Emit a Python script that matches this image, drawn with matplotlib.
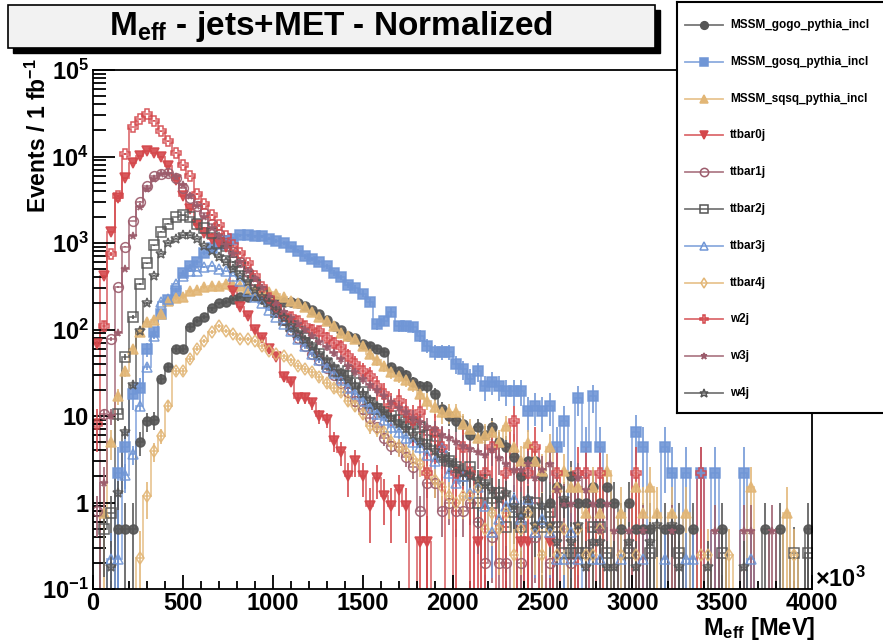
import numpy as np
import matplotlib
matplotlib.use("Agg")
import matplotlib.pyplot as plt
from matplotlib.patches import Rectangle
from matplotlib.ticker import FixedLocator, LogLocator, NullFormatter, MultipleLocator

plt.rcParams['font.family'] = ['Liberation Sans', 'DejaVu Sans']
plt.rcParams['mathtext.fontset'] = 'custom'
plt.rcParams['mathtext.rm'] = 'Liberation Sans:bold'
plt.rcParams['mathtext.bf'] = 'Liberation Sans:bold'
plt.rcParams['mathtext.it'] = 'Liberation Sans:bold'

# M_eff histograms: 100 bins of 40 MeV between 0 and 4000 MeV
bin_edges = np.linspace(0, 4000, 101)

gogo = [0, 0, 0, 0.5, 0.5, 0.5, 5, 8.7, 9, 27,
        37, 60, 60, 107, 126, 140, 175, 200, 210, 225,
        235, 240, 245, 225, 220, 215, 210, 210, 200, 185,
        170, 150, 130, 110, 100, 85, 80, 68, 64, 60,
        55, 37, 33, 30, 25, 22, 22, 18, 12, 10,
        8.7, 8, 6, 7.4, 6, 7.5, 5, 4.4, 3.4, 2,
        3, 3, 2, 1, 1.5, 1, 2, 1, 1, 1.5,
        1, 1.5, 1, 0.5, 1, 0.5, 0.5, 0.5, 0, 0.5,
        0.5, 0.5, 0, 0.5, 0, 0, 0, 0.5, 0, 0,
        0, 0, 0, 0.5, 0, 0.5, 0, 0, 0, 0.5]

gosq = [0, 0, 0, 2.2, 4.4, 18, 21, 59, 93, 150,
        220, 280, 450, 540, 600, 760, 870, 980, 1050, 1120,
        1230, 1230, 1200, 1200, 1120, 1050, 1000, 900, 800, 700,
        650, 600, 540, 450, 400, 330, 300, 260, 210, 115,
        125, 160, 110, 110, 107, 85, 65, 55, 55, 55,
        40, 35, 27, 33, 22, 25, 22, 19.5, 19.5, 19.5,
        11.5, 13, 11.5, 13, 4.4, 8.7, 0, 16, 4.4, 17,
        4.4, 0, 0, 0, 0, 6.5, 4.4, 0, 0, 4.4,
        2.2, 0, 2.2, 0, 2.2, 0, 2.2, 0, 0, 0,
        2.2, 0, 0, 0, 0, 0, 0, 0, 0, 0]

sqsq = [0, 0.75, 5, 17, 33, 60, 93, 123, 130, 150,
        215, 230, 240, 280, 290, 310, 320, 320, 340, 330,
        320, 300, 290, 280, 270, 255, 240, 215, 200, 180,
        160, 140, 127, 110, 90, 85, 78, 65, 52, 44,
        38, 32, 29, 26, 23, 18, 15, 12.6, 11, 11,
        11, 8, 7, 5.6, 6, 6.5, 5, 7.6, 4.4, 3,
        4.9, 3, 2.3, 4.4, 1.5, 2.3, 1.5, 1.5, 0.75, 1.5,
        0.75, 2.3, 0, 0.75, 0, 1.5, 0.75, 1.5, 0.75, 0,
        0.75, 0, 0.75, 0, 0, 0, 0, 0, 0, 0,
        0, 1.5, 0, 0, 0, 0, 0.75, 0, 0, 0]

ttbar0j = [68, 420, 1350, 3300, 5600, 8300, 10200, 11500, 11000, 10000,
           7700, 5300, 3500, 2500, 1600, 1300, 1100, 1000, 900, 275,
           180, 145, 100, 80, 60, 48, 28, 25, 16, 16,
           14, 10, 9, 5.2, 3.8, 2, 3, 2, 0.9, 1.9,
           1.2, 0.9, 1.4, 0.9, 0, 0.35, 0.35, 0, 0, 0,
           0, 0, 0, 0.35, 0, 0, 0, 0, 0, 0.35,
           0.35, 0, 0, 0.35, 0, 0, 0, 0, 0, 0,
           0, 0, 0, 0, 0, 0, 0, 0, 0, 0,
           0, 0, 0, 0, 0, 0, 0, 0, 0, 0,
           0, 0, 0, 0, 0, 0, 0, 0, 0, 0]

ttbar1j = [0.8, 10.5, 78, 310, 910, 1800, 3000, 4500, 5900, 6300,
           6500, 5600, 4300, 3300, 2700, 2200, 1650, 1270, 1000, 780,
           600, 460, 360, 280, 220, 170, 130, 100, 80, 65,
           52, 44, 36, 30, 24, 19, 15, 12, 9.5, 7.4,
           5.6, 4.5, 4.4, 3.4, 2.6, 0.8, 1.7, 1.7, 0.8, 1.0,
           0.8, 0.8, 1.0, 0.6, 0.2, 0.4, 0.2, 0.2, 0, 0.2,
           0, 0.4, 0, 0.2, 0, 0, 0.2, 0, 0, 0,
           0, 0, 0, 0, 0, 0, 0, 0, 0, 0,
           0, 0, 0, 0, 0, 0, 0, 0, 0, 0,
           0, 0, 0, 0, 0, 0, 0, 0, 0, 0]

ttbar2j = [0, 0.5, 0.75, 10.5, 48, 140, 340, 580, 940, 1350,
           1660, 2000, 2100, 2000, 1660, 1500, 1300, 1000, 800, 600,
           540, 420, 330, 270, 210, 160, 130, 110, 93, 80,
           70, 52, 40, 33, 30, 33, 24, 19, 14, 12,
           11, 10, 9, 8.5, 8, 7.5, 6, 5.1, 3.4, 3,
           2.6, 2, 2.6, 1, 1.8, 1, 1.3, 0.52, 0.78, 0.52,
           0.78, 1, 0.52, 0.78, 0.52, 0.26, 0.26, 0.26, 0.26, 0.52,
           0.52, 0.26, 0, 0, 0.26, 0, 0, 0.26, 0, 0,
           0, 0.26, 0, 0, 0, 0, 0, 0.26, 0, 0,
           0, 0, 0, 0, 0, 0, 0, 0.26, 0, 0.26]

ttbar3j = [0, 0, 0.22, 0.22, 2.1, 3.6, 13, 37, 85, 210,
           225, 340, 420, 470, 480, 530, 540, 500, 470, 420,
           360, 280, 240, 200, 170, 140, 115, 95, 78, 64,
           52, 44, 37, 31, 26, 21, 18, 15, 12.5, 10.5,
           9, 7.5, 6.5, 5.5, 5, 4.4, 3.5, 3, 4.4, 2.2,
           1.7, 2, 1.3, 1.5, 0.9, 0.45, 0.65, 0.9, 1.1, 0.65,
           1.1, 0.45, 0.65, 0.45, 0.22, 0.22, 0.45, 0.22, 0, 0.22,
           0.22, 0, 0, 0.22, 0, 0, 0.22, 0, 0, 0.22,
           0, 0, 0.22, 0.22, 0, 0, 0, 0, 0, 0,
           0, 0.22, 0, 0, 0, 0, 0, 0, 0, 0]

ttbar4j = [0, 0, 0, 0, 0, 0, 0.23, 1.2, 3.9, 5.9,
           13, 33, 33, 46, 60, 74, 93, 110, 96, 89,
           78, 78, 74, 64, 56, 52, 49, 44, 38, 35,
           32, 28, 24, 21, 19, 15, 13, 10.5, 7.6, 7,
           6.5, 5, 4.4, 3.8, 3.2, 2.8, 2.2, 1.8, 1.5, 1.2,
           1, 1.2, 1.2, 1.5, 0.5, 0.75, 0.5, 0.75, 0.25, 0.5,
           0.75, 0.5, 0.25, 0.5, 0.25, 0.5, 0, 0.5, 0.25, 0.25,
           0.5, 0, 0, 0.25, 0, 0.25, 0, 0, 0, 0,
           0, 0, 0, 0, 0.25, 0.25, 0, 0, 0.25, 0,
           0, 0, 0, 0, 0, 0, 0, 0.25, 0, 0]

w2j = [8, 110, 750, 3500, 10700, 22000, 27000, 31000, 26000, 19500,
       15000, 11000, 7900, 5900, 3700, 2800, 2100, 1600, 1200, 950,
       760, 580, 420, 310, 230, 180, 145, 140, 125, 110,
       100, 95, 80, 70, 63, 49, 40, 33, 29, 22,
       18, 13, 15, 11, 9, 11, 2.2, 6.6, 4.4, 0,
       2.2, 4.4, 2.2, 0, 2.2, 4.4, 0, 2.2, 8.8, 0,
       2.2, 4.4, 0, 0, 2.2, 0, 0, 2.2, 2.2, 0,
       2.2, 0, 0, 0, 0, 2.2, 0, 0, 0, 0,
       0, 0, 0, 0, 2.2, 0, 0, 0, 0, 0,
       0, 0, 0, 0, 0, 0, 0, 0, 0, 0]

w3j = [0, 1.7, 10, 90, 500, 1200, 2600, 4200, 5500, 6200,
       6300, 5800, 4700, 3500, 2700, 2000, 1500, 1200, 950, 750,
       600, 480, 380, 300, 240, 195, 160, 135, 115, 98,
       84, 72, 62, 53, 45, 38, 32, 27, 23, 20,
       17, 14.5, 12.5, 11, 9.5, 8.5, 7.5, 7, 6, 5.5,
       5, 4.5, 4.2, 3.8, 3.5, 4, 3.3, 2.8, 2.4, 2.4,
       2.8, 1.9, 2.4, 2.8, 1.4, 0.95, 0.95, 1.9, 1.4, 0.95,
       0.47, 0.95, 0.47, 0, 0.47, 0, 0.47, 0, 0, 0,
       0.47, 0, 0, 0, 0, 0, 0.47, 0, 0, 0,
       0.47, 0.47, 0, 0, 0.47, 0, 0, 0, 0, 0]

w4j = [0, 0, 0.18, 1.3, 6.5, 23, 96, 200, 420, 750,
       1000, 1120, 1230, 1230, 1120, 930, 810, 690, 600, 500,
       420, 350, 290, 240, 200, 165, 135, 110, 92, 76,
       63, 52, 44, 37, 31, 26, 22, 18, 15.5, 13,
       11, 9.5, 8, 7, 6, 5.2, 4.5, 3.9, 3.4, 3,
       2.6, 2.2, 2, 1.8, 1.6, 1.4, 1.1, 1.3, 0.9, 0.7,
       1.1, 0.55, 0.9, 0.55, 0.35, 1.1, 0.35, 0.55, 0.18, 0.35,
       0.35, 0.18, 0.18, 0, 0.35, 0.18, 0, 0.35, 0.55, 0,
       0.55, 0.18, 0, 0, 0, 0.18, 0, 0, 0, 0,
       0.18, 0, 0, 0, 0, 0, 0, 0, 0, 0]

labels = ['MSSM_gogo_pythia_incl', 'MSSM_gosq_pythia_incl', 'MSSM_sqsq_pythia_incl',
          'ttbar0j', 'ttbar1j', 'ttbar2j', 'ttbar3j', 'ttbar4j', 'w2j', 'w3j', 'w4j']
series = [gogo, gosq, sqsq, ttbar0j, ttbar1j, ttbar2j, ttbar3j, ttbar4j, w2j, w3j, w4j]
# per-event weight of each sample (sets the size of the statistical errors)
weights = [0.5, 2.2, 0.75, 0.35, 0.2, 0.26, 0.22, 0.25, 2.2, 0.47, 0.18]

colors = ['#555555', '#7096d6', '#e2b676', '#d4474b', '#9c5c6c',
          '#555555', '#7096d6', '#e2b676', '#d4474b', '#9c5c6c', '#555555']
markers = ['o', 's', '^', 'v', 'o', 's', '^', 'd', 'P', '*', '*']
filled = [True, True, True, True, False, False, False, False, False, True, False]
msizes = [6.5, 6.5, 6.5, 6.5, 7, 7, 7, 6.5, 7.5, 5.5, 7.5]

fig = plt.figure(figsize=(8.83, 6.4), dpi=100)
W, H = 883.0, 640.0
ax = fig.add_axes([93 / W, 1 - 589 / H, (812 - 93) / W, (589 - 70) / H])

centers = 0.5 * (bin_edges[:-1] + bin_edges[1:])
floor = 1e-3
for vals, c, mk, fl, ms, w in zip(series, colors, markers, filled, msizes, weights):
    v = np.array(vals, dtype=float)
    ax.stairs(np.where(v > 0, v, floor), bin_edges, color=c, lw=1.3, alpha=0.75,
              baseline=None)
    m = v > 0
    err = np.sqrt(v * w)
    lo = np.minimum(err, v - floor)
    ax.errorbar(centers[m], v[m], yerr=[lo[m], err[m]], fmt=mk, color=c,
                mfc=c if fl else 'none', mec=c, mew=1.1, ms=ms,
                elinewidth=1.3, capsize=0, alpha=0.9)

ax.set_yscale('log')
ax.set_xlim(0, 4000)
ax.set_ylim(0.1, 1e5)

ax.xaxis.set_minor_locator(MultipleLocator(100))
ax.set_xticks(np.arange(0, 4001, 500))
ax.set_xticklabels([str(t) for t in range(0, 4001, 500)], fontsize=17, fontweight='bold')

ytick_vals = [0.1, 1, 10, 100, 1e3, 1e4, 1e5]
ytick_labels = [r'$\mathbf{10^{-1}}$', '1', '10', r'$\mathbf{10^{2}}$',
                r'$\mathbf{10^{3}}$', r'$\mathbf{10^{4}}$', r'$\mathbf{10^{5}}$']
ax.yaxis.set_major_locator(FixedLocator(ytick_vals))
ax.set_yticklabels(ytick_labels, fontsize=17, fontweight='bold')
ax.yaxis.set_minor_locator(LogLocator(base=10, subs=np.arange(2, 10)))
ax.yaxis.set_minor_formatter(NullFormatter())

ax.tick_params(axis='both', which='both', direction='in', top=False, right=False,
               color='black', width=1.3)
ax.tick_params(axis='y', which='major', length=16, pad=3)
ax.tick_params(axis='y', which='minor', length=9)
ax.tick_params(axis='x', which='major', length=10, pad=2)
ax.tick_params(axis='x', which='minor', length=6)
for s in ax.spines.values():
    s.set_linewidth(1.3)

# axis titles, ROOT style
fig.text(815 / W, 1 - 579 / H, r'$\times$10$^{\mathbf{3}}$', ha='left', va='center',
         fontsize=17, fontweight='bold')
fig.text(815 / W, 1 - 628 / H, r'M$_{\mathbf{eff}}$ [MeV]', ha='right', va='center',
         fontsize=17, fontweight='bold')
fig.text(38 / W, 1 - 58 / H, r'Events / 1 fb$^{\mathbf{-1}}$', rotation=90,
         ha='center', va='top', fontsize=16.5, fontweight='bold')

# title box with shadow
fig.patches.append(Rectangle((13 / W, 1 - 53 / H), 647 / W, 43 / H,
                             transform=fig.transFigure, facecolor='black',
                             edgecolor='black', zorder=1))
fig.patches.append(Rectangle((8 / W, 1 - 48 / H), 647 / W, 43 / H,
                             transform=fig.transFigure, facecolor='#f2f2f2',
                             edgecolor='black', lw=1.2, zorder=2))
fig.text(331 / W, 1 - 26 / H, r'M$_{\mathbf{eff}}$ - jets+MET - Normalized',
         ha='center', va='center', fontsize=24, fontweight='bold', zorder=3)

# legend panel
lax = fig.add_axes([677 / W, 1 - 413 / H, 0.3, 411 / H])
lax.set_xlim(0, 0.3 * W)
lax.set_ylim(411, 0)
lax.set_xticks([])
lax.set_yticks([])
lax.set_facecolor('white')
for s in lax.spines.values():
    s.set_linewidth(1.5)
for i, (lab, c, mk, fl, ms) in enumerate(zip(labels, colors, markers, filled, msizes)):
    y = 23 + 36.8 * i
    lax.plot([8, 46], [y, y], color=c, lw=1.3, alpha=0.8)
    lax.plot([27], [y], marker=mk, color=c, mfc=c if fl else 'none', mec=c,
             mew=1.1, ms=ms * 0.85)
    lax.text(53, y, lab, va='center', ha='left', fontsize=8.5, fontweight='bold')

fig.savefig('out.png', dpi=100)
